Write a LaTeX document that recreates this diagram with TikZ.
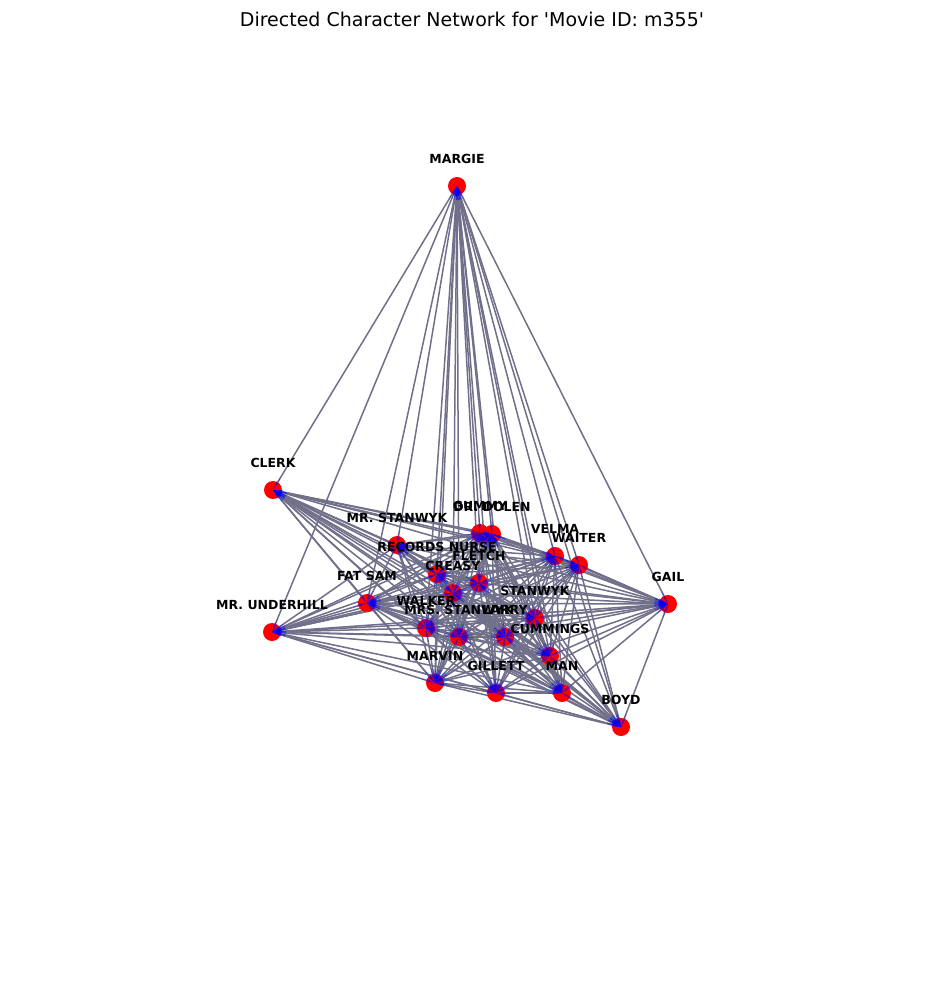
\documentclass[tikz,border=0pt]{standalone}
\usepackage{fontspec}
\setmainfont{DejaVu Sans}
\usetikzlibrary{arrows.meta,calc}
\definecolor{edgegray}{RGB}{112,112,138}
\definecolor{nodered}{RGB}{255,0,0}
\definecolor{tipblue}{RGB}{0,0,255}
\pgfdeclarelayer{bg}
\pgfsetlayers{bg,main}
\tikzset{
  charnode/.style={circle,fill=nodered,minimum size=18pt,inner sep=0pt},
  lbl/.style={font=\bfseries\fontsize{12.5}{13}\selectfont,text=black,inner sep=0pt},
  edgeline/.style={edgegray,line width=1.5pt},
  tipline/.style={tipblue,opacity=0.4,line width=0.5pt,-{Stealth[length=10pt,width=3pt]}},
  titlestyle/.style={font=\fontsize{19}{20}\selectfont,inner sep=0pt}
}
\begin{document}
\begin{tikzpicture}[x=1pt,y=-1pt]
\useasboundingbox (0,0) rectangle (944,986);
\node[titlestyle] (title) at (472,19) {Directed Character Network for \textquotesingle Movie ID: m355\textquotesingle};
% nodes
\node[charnode] (n1) at (457,186) {};
\node[charnode] (n2) at (273,490) {};
\node[charnode] (n3) at (272,632) {};
\node[charnode] (n4) at (397,545) {};
\node[charnode] (n5) at (480,533) {};
\node[charnode] (n6) at (492,534) {};
\node[charnode] (n7) at (555,556) {};
\node[charnode] (n8) at (579,565) {};
\node[charnode] (n9) at (437,574) {};
\node[charnode] (n10) at (479,583) {};
\node[charnode] (n11) at (453,593) {};
\node[charnode] (n12) at (367,603) {};
\node[charnode] (n13) at (535,618) {};
\node[charnode] (n14) at (426,628) {};
\node[charnode] (n15) at (459,637) {};
\node[charnode] (n16) at (505,637) {};
\node[charnode] (n17) at (550,656) {};
\node[charnode] (n18) at (435,683) {};
\node[charnode] (n19) at (496,693) {};
\node[charnode] (n20) at (562,693) {};
\node[charnode] (n21) at (621,727) {};
\node[charnode] (n22) at (668,604) {};
% edges
\begin{pgfonlayer}{bg}
\foreach \i in {1,...,22}{
  \foreach \j in {1,...,22}{
    \pgfmathtruncatemacro\skp{((\i==2)&&(\j==3))||(\i>=\j)}
    \ifnum\skp=0
      \draw[edgeline] (n\i.center) -- (n\j.center);
    \fi
  }
}
\end{pgfonlayer}
% arrow tips
\foreach \i in {1,...,22}{
  \foreach \j in {1,...,22}{
    \pgfmathtruncatemacro\skp{((\i==2)&&(\j==3))||((\i==3)&&(\j==2))||(\i==\j)}
    \ifnum\skp=0
      \draw[tipline] ($(n\j.center)!14pt!(n\i.center)$) -- (n\j.center);
    \fi
  }
}
% labels
\node[lbl] (l1) at ($(n1)+(0,-27)$) {MARGIE};
\node[lbl] (l2) at ($(n2)+(0,-27)$) {CLERK};
\node[lbl] (l3) at ($(n3)+(0,-27)$) {MR. UNDERHILL};
\node[lbl] (l4) at ($(n4)+(0,-27)$) {MR. STANWYK};
\node[lbl] (l5) at ($(n5)+(0,-27)$) {GUMMY};
\node[lbl] (l6) at ($(n6)+(0,-27)$) {DR. DOLEN};
\node[lbl] (l7) at ($(n7)+(0,-27)$) {VELMA};
\node[lbl] (l8) at ($(n8)+(0,-27)$) {WAITER};
\node[lbl] (l9) at ($(n9)+(0,-27)$) {RECORDS NURSE};
\node[lbl] (l10) at ($(n10)+(0,-27)$) {FLETCH};
\node[lbl] (l11) at ($(n11)+(0,-27)$) {CREASY};
\node[lbl] (l12) at ($(n12)+(0,-27)$) {FAT SAM};
\node[lbl] (l13) at ($(n13)+(0,-27)$) {STANWYK};
\node[lbl] (l14) at ($(n14)+(0,-27)$) {WALKER};
\node[lbl] (l15) at ($(n15)+(0,-27)$) {MRS. STANWYK};
\node[lbl] (l16) at ($(n16)+(0,-27)$) {LARRY};
\node[lbl] (l17) at ($(n17)+(0,-27)$) {CUMMINGS};
\node[lbl] (l18) at ($(n18)+(0,-27)$) {MARVIN};
\node[lbl] (l19) at ($(n19)+(0,-27)$) {GILLETT};
\node[lbl] (l20) at ($(n20)+(0,-27)$) {MAN};
\node[lbl] (l21) at ($(n21)+(0,-27)$) {BOYD};
\node[lbl] (l22) at ($(n22)+(0,-27)$) {GAIL};
\end{tikzpicture}
\end{document}
